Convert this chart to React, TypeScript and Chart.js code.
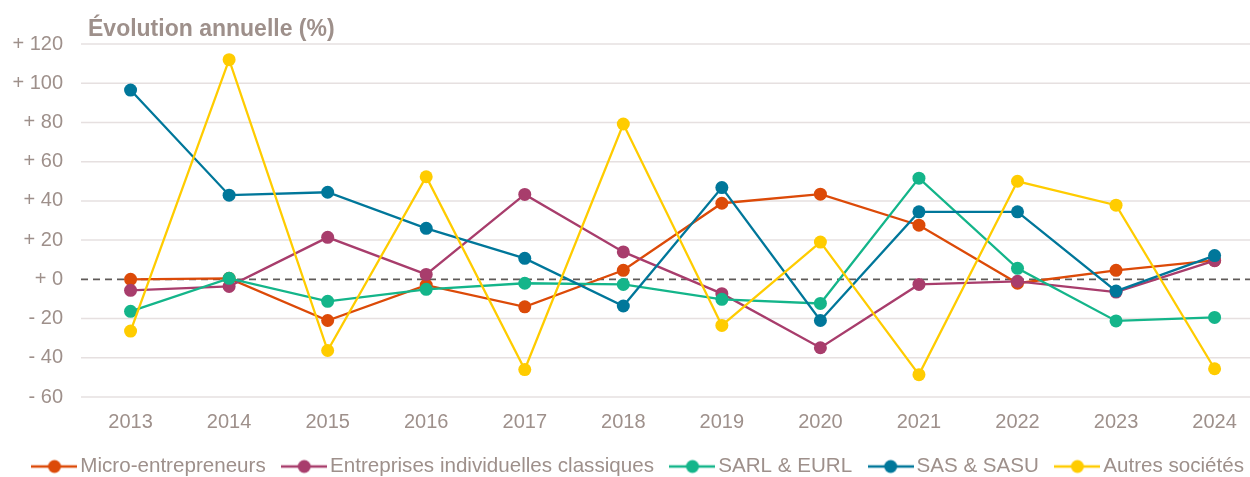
import React, { useEffect, useRef } from "react";
import { Chart, registerables } from "chart.js";

Chart.register(...registerables);

const years = [2013, 2014, 2015, 2016, 2017, 2018, 2019, 2020, 2021, 2022, 2023, 2024];
const seriesNames = [
  "Micro-entrepreneurs",
  "Entreprises individuelles classiques",
  "SARL & EURL",
  "SAS & SASU",
  "Autres sociétés",
];
const microEntrepreneurs = [0, 0.5, -21, -3, -14, 4.6, 38.8, 43.4, 27.6, -2, 4.6, 9.7];
const entreprisesIndividuelles = [-5.6, -3.6, 21.4, 2.5, 43.3, 14, -7.3, -34.9, -2.6, -1, -6.5, 9.5];
const sarlEurl = [-16.3, 0.5, -11.2, -5.1, -2, -2.6, -10.2, -12.3, 51.6, 5.6, -21.2, -19.4];
const sasSasu = [96.5, 42.9, 44.4, 26, 10.7, -13.6, 46.8, -21, 34.4, 34.4, -6, 12.1];
const autresSocietes = [-26.4, 112, -36.3, 52.3, -46, 79.2, -23.5, 19, -48.6, 50, 37.8, -45.6];
const seriesValues = [microEntrepreneurs, entreprisesIndividuelles, sarlEurl, sasSasu, autresSocietes];
const seriesColors = ["#dc4a08", "#a83d6c", "#14b58a", "#00779a", "#ffcc00"];
const yTicks = [-60, -40, -20, 0, 20, 40, 60, 80, 100, 120];
const titleText = "Évolution annuelle (%)";

const TEXT_COLOR = "#9e908b";
const GRID_COLOR = "#e6e0e0";
const FONT = "'Liberation Sans', Arial, sans-serif";

function makeLegendIcon(color: string): HTMLCanvasElement {
  const c = document.createElement("canvas");
  c.width = 46;
  c.height = 16;
  const ctx = c.getContext("2d")!;
  ctx.strokeStyle = color;
  ctx.lineWidth = 2.5;
  ctx.beginPath();
  ctx.moveTo(0, 8);
  ctx.lineTo(46, 8);
  ctx.stroke();
  ctx.fillStyle = color;
  ctx.beginPath();
  ctx.arc(23, 8, 6.5, 0, Math.PI * 2);
  ctx.fill();
  return c;
}

export default function App() {
  const canvasRef = useRef<HTMLCanvasElement | null>(null);

  useEffect(() => {
    document.body.style.margin = "0";
    const canvas = canvasRef.current;
    if (!canvas) return;

    const datasets = seriesNames.map((name, i) => ({
      label: name,
      data: years.map((y, j) => ({ x: y, y: seriesValues[i][j] })),
      borderColor: seriesColors[i],
      backgroundColor: seriesColors[i],
      pointBackgroundColor: seriesColors[i],
      pointBorderColor: seriesColors[i],
      borderWidth: 2.3,
      pointRadius: 6.5,
      pointBorderWidth: 0,
      tension: 0,
      order: seriesNames.length - i,
    }));

    const icons = seriesColors.map(makeLegendIcon);

    // Horizontal grid lines (full width to the canvas edge) and dashed zero line
    const gridAndZero = {
      id: "gridAndZero",
      beforeDatasetsDraw(chart: any) {
        const yScale = chart.scales.y;
        const { left } = chart.chartArea;
        const ctx = chart.ctx;
        ctx.save();
        ctx.strokeStyle = GRID_COLOR;
        ctx.lineWidth = 1.5;
        yTicks.forEach((v) => {
          if (v === 0) return;
          const y = yScale.getPixelForValue(v);
          ctx.beginPath();
          ctx.moveTo(left, y);
          ctx.lineTo(chart.width, y);
          ctx.stroke();
        });
        const y0 = yScale.getPixelForValue(0);
        ctx.strokeStyle = "#5f5a58";
        ctx.lineWidth = 1.6;
        ctx.setLineDash([7, 5]);
        ctx.beginPath();
        ctx.moveTo(left, y0);
        ctx.lineTo(chart.width, y0);
        ctx.stroke();
        ctx.restore();
      },
    };

    const titlePlugin = {
      id: "customTitle",
      afterDraw(chart: any) {
        const ctx = chart.ctx;
        ctx.save();
        ctx.font = `bold 23px ${FONT}`;
        ctx.fillStyle = TEXT_COLOR;
        ctx.textBaseline = "alphabetic";
        ctx.textAlign = "left";
        ctx.fillText(titleText, chart.chartArea.left + 7, 36);
        ctx.restore();
      },
    };

    const chart = new Chart(canvas, {
      type: "line",
      data: { datasets },
      plugins: [gridAndZero, titlePlugin],
      options: {
        responsive: false,
        animation: false,
        layout: { padding: { left: 0, right: -33, top: 44, bottom: -9.8 } },
        scales: {
          x: {
            type: "linear",
            min: 2012.497,
            max: 2024.291,
            afterBuildTicks: (scale: any) => {
              scale.ticks = years.map((v) => ({ value: v }));
            },
            afterFit: (scale: any) => {
              scale.height = 36.2;
            },
            grid: { display: false, drawTicks: false },
            border: { display: false },
            ticks: {
              color: TEXT_COLOR,
              font: { family: FONT, size: 20 },
              padding: 13,
              maxRotation: 0,
              autoSkip: false,
              callback: (v: any) => String(v),
            },
          },
          y: {
            min: -60,
            max: 120,
            afterBuildTicks: (scale: any) => {
              scale.ticks = yTicks.map((v) => ({ value: v }));
            },
            afterFit: (scale: any) => {
              scale.width = 81;
            },
            grid: { display: false, drawTicks: false },
            border: { display: false },
            ticks: {
              color: TEXT_COLOR,
              font: { family: FONT, size: 20 },
              padding: 18,
              callback: (v: any) => (v < 0 ? "- " : "+ ") + Math.abs(v),
            },
          },
        },
        plugins: {
          title: { display: false },
          tooltip: { enabled: false },
          legend: {
            position: "bottom",
            labels: {
              usePointStyle: true,
              pointStyleWidth: 31,
              boxHeight: 16,
              padding: 23,
              color: TEXT_COLOR,
              font: { family: FONT, size: 20.6 },
              generateLabels: () =>
                seriesNames.map((name, i) => ({
                  text: name,
                  fillStyle: seriesColors[i],
                  strokeStyle: seriesColors[i],
                  fontColor: TEXT_COLOR,
                  pointStyle: icons[i],
                  lineWidth: 0,
                  hidden: false,
                  datasetIndex: i,
                })),
            },
          },
        },
      },
    } as any);

    return () => chart.destroy();
  }, []);

  return (
    <div style={{ width: 1250, height: 477, overflow: "hidden" }}>
      <canvas ref={canvasRef} width={1250} height={477} />
    </div>
  );
}
